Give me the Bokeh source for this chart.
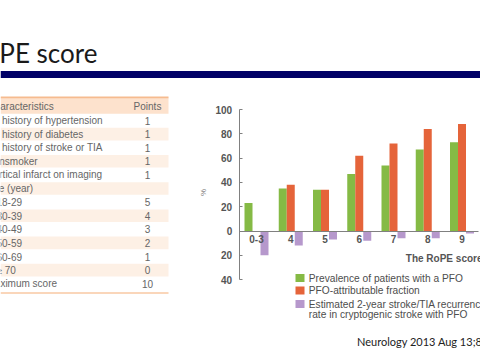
from math import pi
from bokeh.plotting import figure
from bokeh.models import Range1d, LinearAxis, FixedTicker, ColumnDataSource
from bokeh.transform import dodge
from bokeh.core.properties import value
from bokeh.embed import file_html
from bokeh.resources import INLINE

# ---------------- data ----------------
categories = ["0-3", "4", "5", "6", "7", "8", "9"]
pfo_prevalence = [23, 35, 34, 47, 54, 67, 73]
pfo_attributable = [0, 38, 34, 62, 72, 84, 88]
recurrence_rate = [20, 12, 7, 8, 6, 6, 2]
y_ticks = [-40, -20, 0, 20, 40, 60, 80, 100]
y_tick_labels = ["40", "20", "0", "20", "40", "60", "80", "100"]
legend_labels = ["Prevalence of patients with a PFO",
                 "PFO-attributable fraction",
                 "Estimated 2-year stroke/TIA recurrence",
                 "rate in cryptogenic stroke with PFO"]
x_title = "The RoPE score"
y_title = "%"

table_header = ["Characteristics", "Points"]
characteristics = ["No history of hypertension", "No history of diabetes",
                   "No history of stroke or TIA", "Nonsmoker",
                   "Cortical infarct on imaging"]
characteristic_points = ["1", "1", "1", "1", "1"]
age_title = "Age (year)"
age_groups = ["18-29", "30-39", "40-49", "50-59", "60-69", "\u2265 70"]
age_points = ["5", "4", "3", "2", "1", "0"]
max_label = "Maximum score"
max_points = "10"

slide_title = "RoPE score"
citation = "Neurology 2013 Aug 13;81(7):619-25"

# ---------------- styling / layout ----------------
W, H = 480, 360
GREEN, ORANGE, PURPLE = "#85ba45", "#e5643a", "#b698cc"
CHART_TXT = "#555555"

def px(v):
    return value("%.2fpx" % v)

p = figure(width=W, height=H, x_range=Range1d(0, W), y_range=Range1d(H, 0),
           x_axis_type=None, y_axis_type=None, toolbar_location=None,
           output_backend="svg", min_border=0, outline_line_color=None,
           background_fill_color="white", border_fill_color="white")
p.min_border_left = p.min_border_right = p.min_border_top = p.min_border_bottom = 0

# slide title and navy rule
p.text(x=[-31], y=[52], text=[slide_title], text_font=value("Lato"),
       text_font_size=px(26), text_color="#1a1a1a", text_baseline="alphabetic")
p.quad(left=[0], right=[W], top=[70.5], bottom=[77.5], fill_color="#000066", line_color=None)

# ---------------- table ----------------
ROW0, PITCH_R = 120.0, 13.6
rows_text, rows_pts, rows_x = [], [], []
for t, pt in zip(characteristics, characteristic_points):
    rows_text.append(t); rows_pts.append(pt); rows_x.append(-14)
rows_text.append(age_title); rows_pts.append(""); rows_x.append(-14)
for t, pt in zip(age_groups, age_points):
    rows_text.append(t); rows_pts.append(pt); rows_x.append(-4)
rows_text.append(max_label); rows_pts.append(max_points); rows_x.append(-14)
rows_y = [ROW0 + PITCH_R * k for k in range(len(rows_text))]

shade_y = [y for k, y in enumerate(rows_y) if k % 2 == 1]
p.quad(left=0, right=168, top=[y - 6.3 for y in shade_y], bottom=[y + 6.3 for y in shade_y],
       fill_color="#fdf0e5", line_color=None)
p.quad(left=[0], right=[168], top=[97], bottom=[113.3], fill_color="#fde2cd", line_color=None)
p.quad(left=[0], right=[168], top=[96], bottom=[97.8], fill_color="#f6bb8f", line_color=None)
bottom_line = rows_y[-1] + 8.5
p.quad(left=[0], right=[168], top=[bottom_line], bottom=[bottom_line + 1.5],
       fill_color="#f8c9a3", line_color=None)

TF = value("Liberation Sans")
p.text(x=[-13], y=[105.5], text=[table_header[0]], text_font=TF, text_font_size=px(10),
       text_color="#666666", text_baseline="middle")
p.text(x=[147], y=[105.5], text=[table_header[1]], text_font=TF, text_font_size=px(10),
       text_color="#666666", text_baseline="middle", text_align="center")
tsrc = ColumnDataSource(dict(x=rows_x, y=rows_y, t=rows_text, pt=rows_pts))
p.text(x="x", y="y", text="t", source=tsrc, text_font=TF, text_font_size=px(10),
       text_color="#666666", text_baseline="middle")
p.text(x=147, y="y", text="pt", source=tsrc, text_font=TF, text_font_size=px(10),
       text_color="#666666", text_baseline="middle", text_align="center")

# ---------------- chart ----------------
C0, PITCH = 256.0, 34.25     # x of first group centre, group pitch (px)
Y0, K = 230.5, 1.215          # y of zero line, px per percent
AXIS_X = 238.7
p.extra_x_ranges = {"cx": Range1d((0 - C0) / PITCH, (W - C0) / PITCH)}
p.extra_y_ranges = {"cy": Range1d((Y0 - H) / K, (Y0 - 0) / K)}
bw = 8.0 / PITCH

idx = list(range(len(categories)))
src = ColumnDataSource(dict(idx=idx, prev=pfo_prevalence, attr=pfo_attributable,
                            rec=[-v for v in recurrence_rate]))
p.vbar(x=dodge("idx", -bw), top="prev", bottom=0, width=bw, source=src,
       x_range_name="cx", y_range_name="cy", fill_color=GREEN, line_color=None)
p.vbar(x="idx", top="attr", bottom=0, width=bw, source=src,
       x_range_name="cx", y_range_name="cy", fill_color=ORANGE, line_color=None)
p.vbar(x=dodge("idx", bw), top=0, bottom="rec", width=bw, source=src,
       x_range_name="cx", y_range_name="cy", fill_color=PURPLE, line_color=None)

yax = LinearAxis(y_range_name="cy", fixed_location=AXIS_X,
                 ticker=FixedTicker(ticks=y_ticks), bounds=(-40, 100))
yax.major_label_overrides = {t: l for t, l in zip(y_ticks, y_tick_labels)}
yax.major_tick_in = 3
yax.major_tick_out = 0
yax.minor_tick_in = 0
yax.minor_tick_out = 0
yax.axis_line_color = "#808080"
yax.major_tick_line_color = "#808080"
yax.major_label_standoff = 7
yax.major_label_text_font = "Liberation Sans"
yax.major_label_text_font_size = "10px"
yax.major_label_text_font_style = "bold"
yax.major_label_text_color = CHART_TXT
p.add_layout(yax, "left")

xax = LinearAxis(x_range_name="cx", y_range_name="cy", fixed_location=0,
                 ticker=FixedTicker(ticks=idx),
                 bounds=((AXIS_X - C0) / PITCH, (478 - C0) / PITCH))
xax.major_label_overrides = {i: c for i, c in zip(idx, categories)}
xax.major_tick_in = 0
xax.major_tick_out = 0
xax.minor_tick_in = 0
xax.minor_tick_out = 0
xax.axis_line_color = "#808080"
xax.major_label_standoff = 4
xax.major_label_text_font = "Liberation Sans"
xax.major_label_text_font_size = "10px"
xax.major_label_text_font_style = "bold"
xax.major_label_text_color = CHART_TXT
p.add_layout(xax, "below")

p.text(x=[202.5], y=[192], text=[y_title], angle=pi / 2, text_font=TF,
       text_font_size=px(8), text_color="#777777", text_align="center", text_baseline="middle")
p.text(x=[482], y=[257.5], text=[x_title], text_font=TF, text_font_size=px(10),
       text_font_style="bold", text_color=CHART_TXT, text_align="right", text_baseline="middle")

# legend (manual)
leg_y = [277.5, 290, 303.5]
p.quad(left=295, right=304, top=[y - 4 for y in leg_y], bottom=[y + 4 for y in leg_y],
       fill_color=[GREEN, ORANGE, PURPLE], line_color=None)
p.text(x=308.3, y=leg_y + [314], text=legend_labels, text_font=TF, text_font_size=px(10.2),
       text_color="#4d4d4d", text_baseline="middle")

# citation
p.text(x=[356.5], y=[340.7], text=[citation], text_font=value("Lato"),
       text_font_size=px(11.0), text_color="#222222", text_baseline="alphabetic")

open("out.html", "w").write(file_html(p, INLINE))
